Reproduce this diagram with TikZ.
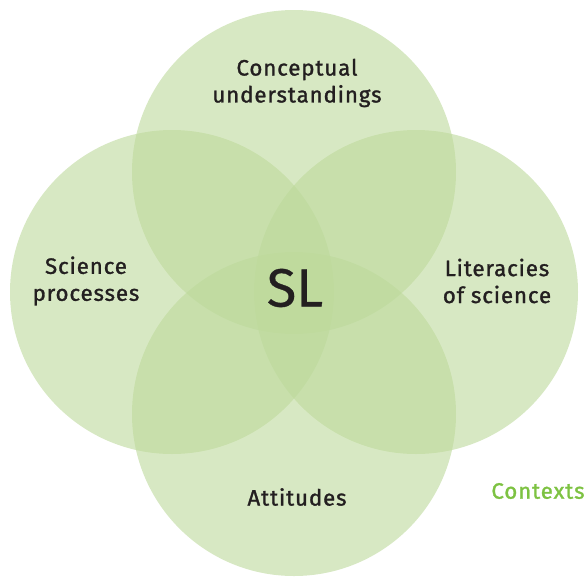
\documentclass[tikz,border=0pt]{standalone}
\usepackage{fontspec}
\setmainfont{Fira Sans}[FakeBold=1.3, LetterSpace=4]
\newfontfamily\bigfont{Fira Sans}[FakeBold=0.6]
\usepackage{tikz}
\definecolor{setgreen}{RGB}{189,217,155}
\definecolor{ctxgreen}{RGB}{125,194,66}
\definecolor{textdark}{RGB}{35,31,32}
\tikzset{
	setdisc/.style={fill=setgreen, fill opacity=0.6},
	setlabel/.style={text=textdark, align=center, font=\fontsize{19}{23}\selectfont},
}

\begin{document}
\begin{tikzpicture}[x=0.03cm, y=-0.03cm]
			%%%%% START %%%%%
			
			\useasboundingbox (0, 0) rectangle (584, 576);
			
			\fill[setdisc] (294, 172) circle (162);
			\fill[setdisc] (172, 292) circle (162);
			\fill[setdisc] (416, 292) circle (162);
			\fill[setdisc] (294, 414) circle (162);
			
			\node[setlabel] (concept) at (297, 83) {Conceptual\\understandings};
			\node[setlabel] (process) at (86, 281) {Science\\processes};
			\node[setlabel] (literacy) at (497, 281) {Literacies\\of science};
			\node[setlabel] (attitude) at (297, 497) {Attitudes};
			
			\node[text=textdark, font=\bigfont\fontsize{46}{50}\selectfont] (sl) at (295, 288) {SL};
			
			\node[text=ctxgreen, font=\fontsize{19}{23}\selectfont] (context) at (538, 491) {Contexts};
			
			%%%%% END %%%%%
		\end{tikzpicture}
\end{document}
